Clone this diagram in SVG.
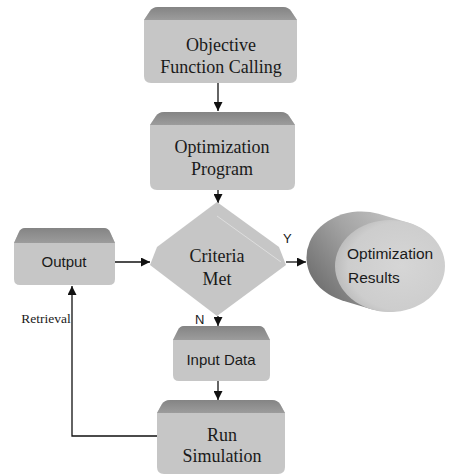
<svg xmlns="http://www.w3.org/2000/svg" width="450" height="475" viewBox="0 0 450 475">
  <style>
    .face { fill: #c6c6c6; }
    .bevel { fill: url(#bevelGrad); }
    .serif { font-family: "Liberation Serif", "Times New Roman", serif; fill: #1a1a1a; text-anchor: middle; }
    .sans { font-family: "Liberation Sans", Arial, sans-serif; fill: #1a1a1a; }
    .edge { stroke: #111; stroke-width: 1.3; fill: none; }
    .label { font-family: "Liberation Sans", Arial, sans-serif; font-size: 13px; fill: #1a1a1a; }
  </style>
  <defs>
    <linearGradient id="bevelGrad" x1="0" y1="0" x2="0" y2="1">
      <stop offset="0" stop-color="#848484"/>
      <stop offset="1" stop-color="#9c9c9c"/>
    </linearGradient>
    <linearGradient id="drumSide" gradientUnits="userSpaceOnUse" x1="308" y1="285" x2="400" y2="215">
      <stop offset="0" stop-color="#6c6c6c"/>
      <stop offset="0.55" stop-color="#a4a4a4"/>
      <stop offset="1" stop-color="#c4c4c4"/>
    </linearGradient>
    <radialGradient id="drumFace" cx="0.6" cy="0.5" r="0.6">
      <stop offset="0" stop-color="#d6d6d6"/>
      <stop offset="0.8" stop-color="#cdcdcd"/>
      <stop offset="1" stop-color="#bcbcbc"/>
    </radialGradient>
    <marker id="arrow" viewBox="0 0 10 10" refX="10" refY="5" markerWidth="9" markerHeight="9" markerUnits="userSpaceOnUse" orient="auto">
      <path d="M0,0 L10,5 L0,10 Z" fill="#111"/>
    </marker>
  </defs>

  <g id="edges">
    <line class="edge" x1="218" y1="83" x2="218" y2="111" marker-end="url(#arrow)"/>
    <line class="edge" x1="218" y1="190" x2="218" y2="203" marker-end="url(#arrow)"/>
    <line class="edge" x1="115" y1="262" x2="150" y2="262" marker-end="url(#arrow)"/>
    <line class="edge" x1="286" y1="262" x2="306" y2="262" marker-end="url(#arrow)"/>
    <line class="edge" x1="218" y1="316" x2="218" y2="326" marker-end="url(#arrow)"/>
    <line class="edge" x1="218" y1="381" x2="218" y2="400" marker-end="url(#arrow)"/>
    <polyline class="edge" points="157,436 72,436 72,286" marker-end="url(#arrow)"/>
    <text class="label" x="283" y="243">Y</text>
    <text class="label" x="195" y="324">N</text>
    <text class="serif" x="46" y="323" font-size="13.5">Retrieval</text>
  </g>

  <!-- boxes: light face with a darker bevelled strip along the top -->
  <g id="objective">
    <path class="face" d="M158,7 L283,7 Q288,7 291,11 L297,20 L297,76 Q297,83 290,83 L151,83 Q144,83 144,76 L144,20 L150,11 Q153,7 158,7 Z"/>
    <path class="bevel" d="M158,7 L283,7 Q288,7 291,11 L297,20 L144,20 L150,11 Q153,7 158,7 Z"/>
    <text class="serif" x="221" y="51" font-size="18">Objective</text>
    <text class="serif" x="221" y="73" font-size="18">Function Calling</text>
  </g>

  <g id="program">
    <path class="face" d="M164,112 L281,112 Q286,112 289,116 L295,125 L295,183 Q295,190 288,190 L157,190 Q150,190 150,183 L150,125 L156,116 Q159,112 164,112 Z"/>
    <path class="bevel" d="M164,112 L281,112 Q286,112 289,116 L295,125 L150,125 L156,116 Q159,112 164,112 Z"/>
    <text class="serif" x="222" y="153" font-size="18">Optimization</text>
    <text class="serif" x="222" y="175" font-size="18">Program</text>
  </g>

  <g id="criteria">
    <polygon class="face" points="217,202 279,247 286,265 217,316 150,265 157,247"/>
    <line x1="217" y1="216" x2="281" y2="262" stroke="#dedede" stroke-width="1"/>
    <text class="serif" x="217" y="262" font-size="18">Criteria</text>
    <text class="serif" x="217" y="285" font-size="18">Met</text>
  </g>

  <g id="output">
    <path class="face" d="M25,228 L104,228 Q108,228 110,232 L115,243 L115,279 Q115,285 109,285 L20,285 Q14,285 14,279 L14,243 L19,232 Q21,228 25,228 Z"/>
    <path class="bevel" d="M25,228 L104,228 Q108,228 110,232 L115,243 L14,243 L19,232 Q21,228 25,228 Z"/>
    <text class="sans" x="64" y="267" font-size="15" text-anchor="middle">Output</text>
  </g>

  <g id="results">
    <!-- drum side: back disc, front disc and the band joining their tangent points -->
    <path d="M408.5,222.7 L378.5,213.7 A55,46 0 0 0 341.5,300.3 L371.5,309.3 A55,46 0 0 0 408.5,222.7 Z" fill="url(#drumSide)"/>
    <ellipse cx="390" cy="266" rx="55" ry="46" fill="url(#drumFace)"/>
    <text class="sans" x="347" y="259" font-size="15.5">Optimization</text>
    <text class="sans" x="348" y="283" font-size="15.5">Results</text>
  </g>

  <g id="input">
    <path class="face" d="M184,326 L259,326 Q263,326 265,330 L270,340 L270,375 Q270,381 264,381 L179,381 Q173,381 173,375 L173,340 L178,330 Q180,326 184,326 Z"/>
    <path class="bevel" d="M184,326 L259,326 Q263,326 265,330 L270,340 L173,340 L178,330 Q180,326 184,326 Z"/>
    <text class="sans" x="221" y="365" font-size="15" text-anchor="middle">Input Data</text>
  </g>

  <g id="simulation">
    <path class="face" d="M170,400 L272,400 Q277,400 280,404 L285,413 L285,467 Q285,474 278,474 L164,474 Q157,474 157,467 L157,413 L162,404 Q165,400 170,400 Z"/>
    <path class="bevel" d="M170,400 L272,400 Q277,400 280,404 L285,413 L157,413 L162,404 Q165,400 170,400 Z"/>
    <text class="serif" x="222" y="441" font-size="18">Run</text>
    <text class="serif" x="222" y="462" font-size="18">Simulation</text>
  </g>
</svg>
